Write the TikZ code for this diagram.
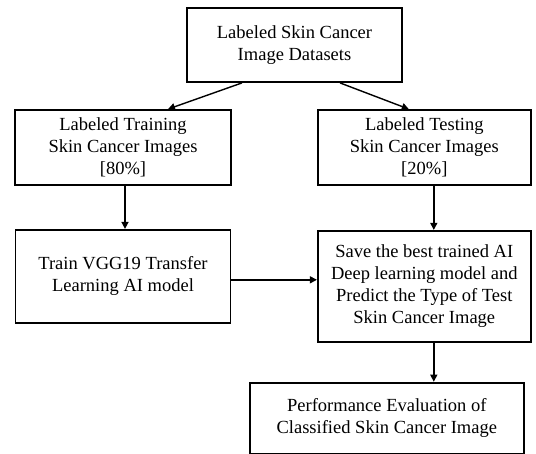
\documentclass[tikz,border=0pt]{standalone}
\usepackage{fontspec}
\setmainfont{Liberation Serif}
\usetikzlibrary{positioning,arrows.meta}
\begin{document}
\begin{tikzpicture}[
    x=1pt,y=-1pt,
    boxes/.style={rectangle,draw,line width=1.8pt,align=center,inner sep=0pt,minimum width=#1,font=\fontsize{18.5}{22}\selectfont},
    flow/.style={line width=1.4pt,-{Triangle[length=7pt,width=7pt]}},
  ]
\useasboundingbox (0,0) rectangle (536,453);
\node (datasets) [boxes=215pt,minimum height=74pt] at (294.5,45) {
  Labeled Skin Cancer \\ Image Datasets
};

\node (training images) [boxes=216pt,minimum height=75pt] at (123,147.5) {
  Labeled Training \\ Skin Cancer Images \\ {[}80\%{]}
};
\node (testing images) [boxes=213pt,minimum height=75pt,right=85pt of training images] {
  Labeled Testing \\ Skin Cancer Images \\ {[}20\%{]}
};
\draw[flow] ([xshift=-52.5pt]datasets.south) -- ([xshift=45pt]training images.north);
\draw[flow] ([xshift=45.5pt]datasets.south) -- ([xshift=-15.5pt]testing images.north);

\node (vgg model) [boxes=215pt,minimum height=93pt,below=43pt of training images] {
  Train VGG19 Transfer \\ Learning AI model
};
\node (best model) [boxes=213pt,minimum height=111pt,below=44pt of testing images] {
  Save the best trained AI \\ Deep learning model and \\ Predict the Type of Test \\ Skin Cancer Image
};
\draw[flow] ([xshift=2pt]training images.south) -- ([xshift=2pt]vgg model.north);
\draw[flow] ([xshift=9.5pt]testing images.south) -- ([xshift=9.5pt]best model.north);
\coordinate (vgg out) at ([yshift=-3.5pt]vgg model.east);
\draw[flow] (vgg out) -- (vgg out -| best model.west);

\node (evaluation) [boxes=274pt,minimum height=71pt,below=39pt of best model,xshift=-37.5pt] {
  Performance Evaluation of \\ Classified Skin Cancer Image
};
\draw[flow] ([xshift=9.5pt]best model.south) -- ([xshift=47pt]evaluation.north);
\end{tikzpicture}
\end{document}
